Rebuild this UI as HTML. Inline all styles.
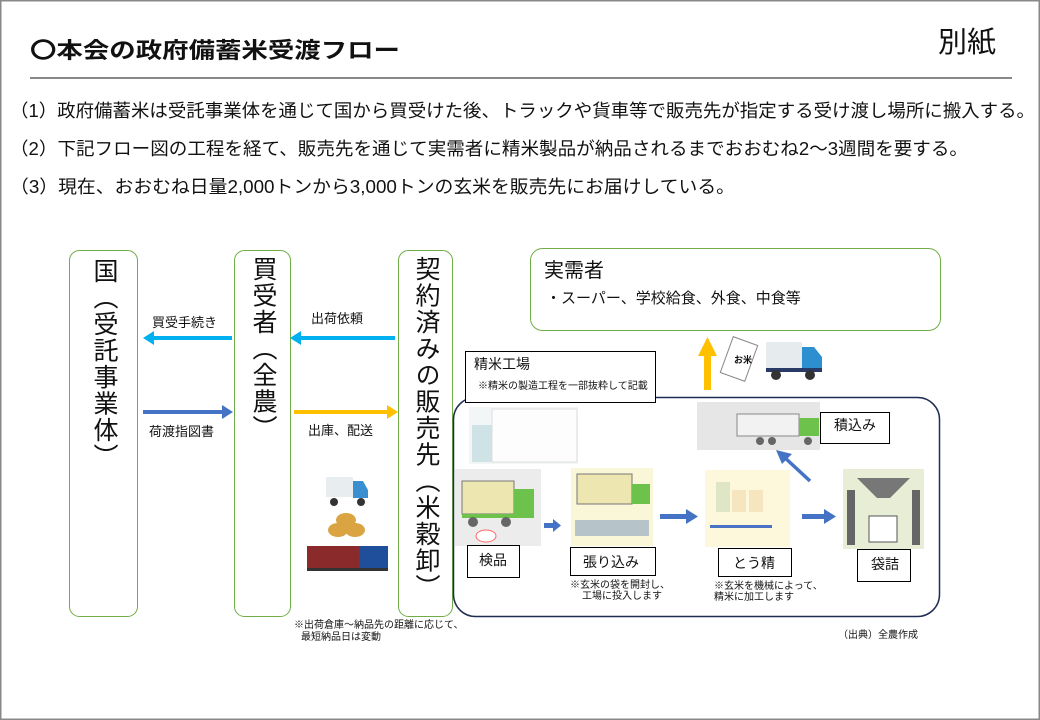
<!DOCTYPE html>
<html><head><meta charset="utf-8"><style>
html,body{margin:0;padding:0;background:#fff}
svg{display:block}
text{font-family:"Liberation Sans","Noto Sans CJK JP",sans-serif;fill:#111}
.v{position:absolute;writing-mode:vertical-rl;font-family:"Liberation Sans","Noto Sans CJK JP",sans-serif;font-size:25px;line-height:1;color:#111;white-space:nowrap;letter-spacing:1.5px}
</style></head><body>
<div style="position:relative;width:1040px;height:720px">
<svg width="1040" height="720" viewBox="0 0 1040 720" xmlns="http://www.w3.org/2000/svg">
<rect x="0.5" y="0.5" width="1039" height="719" fill="#fff" stroke="#888" stroke-width="2"/>
<text x="30" y="58" font-size="22" font-weight="bold" textLength="370" lengthAdjust="spacingAndGlyphs">〇本会の政府備蓄米受渡フロー</text>
<text x="938" y="52" font-size="29">別紙</text>
<line x1="30" y1="78" x2="1012" y2="78" stroke="#888" stroke-width="2"/>
<text x="10" y="117" font-size="18" textLength="1025" lengthAdjust="spacingAndGlyphs">（1）政府備蓄米は受託事業体を通じて国から買受けた後、トラックや貨車等で販売先が指定する受け渡し場所に搬入する。</text>
<text x="10" y="155" font-size="18" textLength="958" lengthAdjust="spacingAndGlyphs">（2）下記フロー図の工程を経て、販売先を通じて実需者に精米製品が納品されるまでおおむね2～3週間を要する。</text>
<text x="10" y="193" font-size="18" textLength="725" lengthAdjust="spacingAndGlyphs">（3）現在、おおむね日量2,000トンから3,000トンの玄米を販売先にお届けしている。</text>

<rect x="69.5" y="250.5" width="68" height="366" rx="10" fill="#fff" stroke="#70ad47"/>
<rect x="234.5" y="250.5" width="56" height="366" rx="10" fill="#fff" stroke="#70ad47"/>
<rect x="398.5" y="250.5" width="54" height="366" rx="10" fill="#fff" stroke="#70ad47"/>

<g stroke-width="4">
<line x1="232" y1="338" x2="152" y2="338" stroke="#00b0f0"/>
<line x1="395" y1="338" x2="300" y2="338" stroke="#00b0f0"/>
<line x1="143" y1="412" x2="222" y2="412" stroke="#4472c4"/>
<line x1="294" y1="412" x2="387" y2="412" stroke="#ffc000"/>
</g>
<polygon points="143,338 154,331 154,345" fill="#00b0f0"/>
<polygon points="290,338 301,331 301,345" fill="#00b0f0"/>
<polygon points="233,412 222,405 222,419" fill="#4472c4"/>
<polygon points="398,412 387,405 387,419" fill="#ffc000"/>
<g font-size="13">
<text x="152" y="327">買受手続き</text>
<text x="311" y="323">出荷依頼</text>
<text x="149" y="436">荷渡指図書</text>
<text x="308" y="435">出庫、配送</text>
</g>
<rect x="326" y="477" width="27" height="20" fill="#e8eef0"/>
<path d="M353 481h10l5 9v8h-15z" fill="#3a8fd0"/>
<circle cx="334" cy="502" r="4" fill="#333"/><circle cx="361" cy="502" r="4" fill="#333"/>
<ellipse cx="346" cy="520" rx="10" ry="7" fill="#d9a441"/>
<ellipse cx="338" cy="530" rx="10" ry="7" fill="#d9a441"/>
<ellipse cx="355" cy="530" rx="10" ry="7" fill="#d9a441"/>
<rect x="307" y="546" width="52" height="22" fill="#8b2a2a"/>
<rect x="359" y="546" width="29" height="22" fill="#1f4f9a"/>
<rect x="307" y="568" width="81" height="3" fill="#333"/>
<text x="294" y="628" font-size="10">※出荷倉庫～納品先の距離に応じて、</text>
<text x="301" y="640" font-size="10">最短納品日は変動</text>

<rect x="530.5" y="248.5" width="410" height="82" rx="12" fill="#fff" stroke="#70ad47"/>
<text x="544" y="277" font-size="20">実需者</text>
<text x="546" y="303" font-size="15">・スーパー、学校給食、外食、中食等</text>

<rect x="453.5" y="397.5" width="486" height="219" rx="22" fill="#fff" stroke="#1f2d55" stroke-width="1.5"/>
<rect x="465.5" y="351.5" width="190" height="51" fill="#fff" stroke="#000"/>
<text x="474" y="369" font-size="14">精米工場</text>
<text x="478" y="389" font-size="10">※精米の製造工程を一部抜粋して記載</text>

<rect x="704" y="355" width="7" height="35" fill="#ffc000"/>
<polygon points="698,356 717,356 707.5,337" fill="#ffc000"/>
<rect x="726" y="340" width="26" height="38" fill="#fff" stroke="#888" transform="rotate(20 739 359)"/>
<text x="734" y="363" font-size="9" font-weight="bold">お米</text>
<rect x="766" y="342" width="36" height="28" fill="#e6ebee"/>
<path d="M802 347h12l8 10v15h-20z" fill="#2c8fd0"/>
<rect x="766" y="368" width="56" height="4" fill="#2a3a66"/>
<circle cx="776" cy="375" r="5" fill="#333"/><circle cx="810" cy="375" r="5" fill="#333"/>

<rect x="469" y="407" width="109" height="57" fill="#f3f6f7"/>
<rect x="492" y="409" width="85" height="53" fill="#fdfdfd" stroke="#ddd"/>
<rect x="472" y="425" width="20" height="37" fill="#cfe3e6"/>
<rect x="455" y="469" width="86" height="77" fill="#ececec"/>
<rect x="462" y="481" width="52" height="33" fill="#eee6b0" stroke="#777"/>
<rect x="514" y="489" width="20" height="25" fill="#6cc24a"/>
<rect x="462" y="514" width="72" height="4" fill="#6cc24a"/>
<circle cx="473" cy="522" r="5" fill="#666"/><circle cx="506" cy="522" r="5" fill="#666"/>
<ellipse cx="486" cy="536" rx="10" ry="6" fill="#fff" stroke="#f66"/>
<rect x="571" y="468" width="82" height="78" fill="#faf6d8"/>
<rect x="577" y="474" width="55" height="30" fill="#eee6b0" stroke="#777"/>
<rect x="632" y="484" width="18" height="20" fill="#6cc24a"/>
<rect x="575" y="520" width="74" height="16" fill="#b6c3c9"/>
<rect x="705" y="470" width="85" height="77" fill="#fdf8dc"/>
<rect x="716" y="482" width="14" height="30" fill="#dfe6c5"/>
<rect x="732" y="490" width="14" height="22" fill="#f5e6c0"/>
<rect x="749" y="490" width="14" height="22" fill="#f5e6c0"/>
<rect x="710" y="525" width="62" height="3" fill="#4a72c4"/>
<rect x="843" y="469" width="81" height="80" fill="#e8eed6"/>
<polygon points="857,478 910,478 890,498 877,498" fill="#777"/>
<rect x="847" y="490" width="8" height="55" fill="#666"/><rect x="912" y="490" width="8" height="55" fill="#666"/>
<rect x="869" y="516" width="28" height="26" fill="#fff" stroke="#555"/>
<rect x="697" y="402" width="123" height="48" fill="#e6e6e6"/>
<rect x="737" y="414" width="62" height="22" fill="#f2f2f2" stroke="#888"/>
<rect x="799" y="418" width="20" height="18" fill="#6cc24a"/>
<circle cx="760" cy="441" r="4" fill="#666"/><circle cx="772" cy="441" r="4" fill="#666"/><circle cx="808" cy="441" r="4" fill="#666"/>

<rect x="544" y="523" width="9" height="5" fill="#4472c4"/><polygon points="553,519 561,525.5 553,532" fill="#4472c4"/>
<rect x="660" y="514" width="28" height="5" fill="#4472c4"/><polygon points="686,509 698,516.5 686,524" fill="#4472c4"/>
<rect x="802" y="514" width="24" height="5" fill="#4472c4"/><polygon points="824,509 836,516.5 824,524" fill="#4472c4"/>
<line x1="810" y1="481" x2="783" y2="456" stroke="#4472c4" stroke-width="3.5"/>
<polygon points="776,450 792,454 782,464" fill="#4472c4"/>

<g fill="#fff" stroke="#000">
<rect x="467.5" y="545.5" width="52" height="32"/>
<rect x="570.5" y="547.5" width="85" height="28"/>
<rect x="718.5" y="548.5" width="73" height="28"/>
<rect x="857.5" y="549.5" width="53" height="32"/>
<rect x="820.5" y="412.5" width="69" height="31"/>
</g>
<g font-size="14">
<text x="479" y="565">検品</text>
<text x="583" y="567">張り込み</text>
<text x="733" y="568">とう精</text>
<text x="871" y="569">袋詰</text>
<text x="834" y="430">積込み</text>
</g>
<g font-size="10">
<text x="570" y="588">※玄米の袋を開封し、</text>
<text x="582" y="599">工場に投入します</text>
<text x="714" y="589">※玄米を機械によって、</text>
<text x="714" y="600">精米に加工します</text>
<text x="838" y="638">（出典）全農作成</text>
</g>
</svg>
<div class="v" style="left:91px;top:258px">国（受託事業体）</div>
<div class="v" style="left:250px;top:256px">買受者（全農）</div>
<div class="v" style="left:413px;top:256px">契約済みの販売先（米穀卸）</div>
</div>
</body></html>
